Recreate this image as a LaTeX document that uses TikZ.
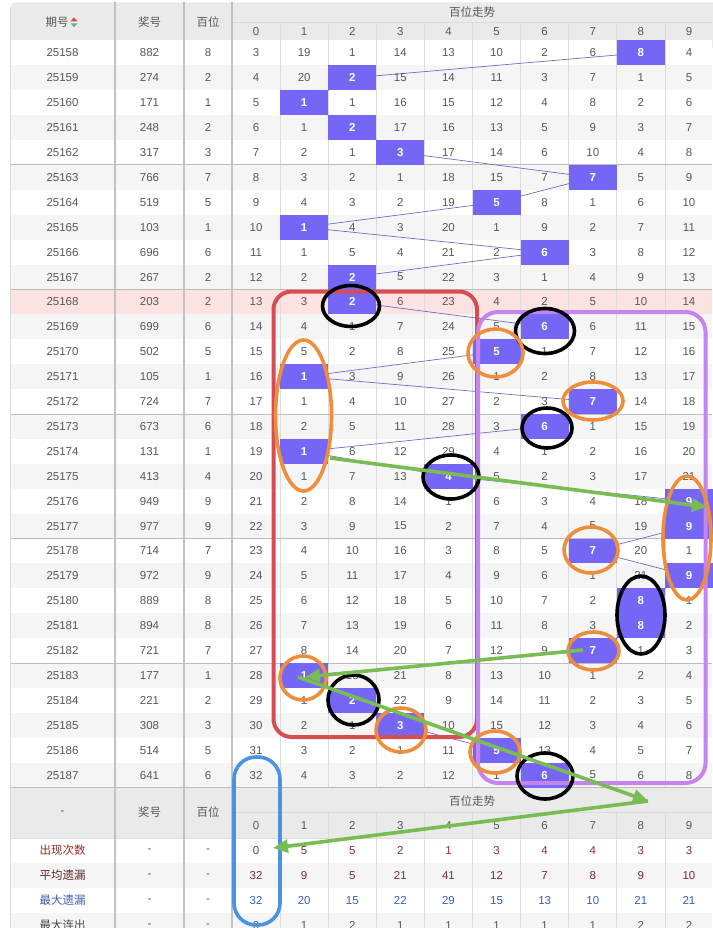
\documentclass[tikz,border=0pt]{standalone}
\usepackage{fontspec}
\setmainfont{Liberation Sans}
\newfontfamily\cjk{Noto Sans CJK SC}
\usetikzlibrary{arrows.meta}
\definecolor{txt}{HTML}{585858}
\definecolor{hdr}{HTML}{EAEAEA}
\definecolor{alt}{HTML}{F5F5F5}
\definecolor{pinkrow}{HTML}{FDE2E2}
\definecolor{hit}{RGB}{118,102,246}
\definecolor{trendc}{RGB}{116,106,200}
\definecolor{septhick}{HTML}{C2C2C2}
\definecolor{septhin}{HTML}{DCDCDC}
\definecolor{grpc}{HTML}{BDBDBD}
\definecolor{redbox}{RGB}{214,78,84}
\definecolor{purplebox}{RGB}{198,132,240}
\definecolor{bluebox}{RGB}{76,146,226}
\definecolor{orangering}{RGB}{238,142,60}
\definecolor{greenarrow}{RGB}{122,188,84}
\definecolor{statred}{RGB}{150,45,40}
\definecolor{statbrown}{RGB}{115,52,42}
\definecolor{statblue}{RGB}{62,94,172}
\definecolor{iconred}{RGB}{226,80,74}
\definecolor{iconteal}{RGB}{90,180,160}
\begin{document}
\begin{tikzpicture}[x=1pt,y=-1pt,font=\fontsize{11.5}{13}\selectfont]
\tikzset{
  txtnode/.style={text=txt,inner sep=0pt},
  cjknode/.style={text=txt,inner sep=0pt,font=\cjk\fontsize{11.5}{13}\selectfont},
  hitnode/.style={fill=hit,minimum width=48.1pt,minimum height=24.9pt,inner sep=0pt,text=white,font=\fontsize{11.5}{13}\selectfont\bfseries},
  trendline/.style={draw=trendc,line width=0.7pt},
  thickvsep/.style={draw=septhick,line width=2pt},
  thinsep/.style={draw=septhin,line width=0.8pt},
  grpline/.style={draw=grpc,line width=1pt},
  blackring/.style={draw=black,line width=3.6pt},
  orangeringst/.style={draw=orangering,line width=3.6pt},
  garrow/.style={draw=greenarrow,line width=3.6pt,-{Triangle[length=15pt,width=13pt]}},
}
\useasboundingbox (0,0) rectangle (712,928);
\fill[white] (0,0) rectangle (712,928);

% header background
\fill[hdr,rounded corners=5pt] (10,48) -- (10,2.5) -- (722,2.5) -- (722,48) -- cycle;

% row backgrounds
\foreach \i in {0,...,29}{
  \pgfmathsetmacro\yt{40.5+24.9*\i}
  \ifodd\i \fill[alt] (10,\yt) rectangle (712,\yt+24.9); \else \fill[white] (10,\yt) rectangle (712,\yt+24.9); \fi
}
\fill[pinkrow] (10,289.5) rectangle (712,314.4);

% bottom header + stats backgrounds
\fill[hdr] (10,787.5) rectangle (712,838);
\fill[white] (10,838) rectangle (712,863);
\fill[alt] (10,863) rectangle (712,888);
\fill[white] (10,888) rectangle (712,913);
\fill[alt] (10,913) rectangle (712,938);

% separators
\draw[thinsep] (232,22.5) -- (712,22.5);
\draw[thinsep] (232,812.5) -- (712,812.5);
\foreach \k in {1,...,9}{
  \draw[thinsep] ({232+48.1*\k},22.5) -- ({232+48.1*\k},787.5);
  \draw[thinsep] ({232+48.1*\k},812.5) -- ({232+48.1*\k},928);
}
\foreach \k in {1,...,5} \draw[grpline] (10,{40.5+124.5*\k}) -- (712,{40.5+124.5*\k});
\draw[grpline] (10,787.5) -- (712,787.5);
\draw[thinsep] (10,838) -- (712,838);
\draw[thinsep] (10,8) -- (10,928);
\foreach \x in {115,184,232} \draw[thickvsep] (\x,2.5) -- (\x,928);

% header texts
\node[cjknode] (hqh) at (57,22) {期号};
\fill[iconred] (70.5,21.3) -- (77.5,21.3) -- (74,17.3) -- cycle;
\fill[iconteal] (70.5,23.3) -- (77.5,23.3) -- (74,27.3) -- cycle;
\node[cjknode] (hjh) at (149.5,22) {奖号};
\node[cjknode] (hbw) at (208,22) {百位};
\node[cjknode] (hzs) at (472,12) {百位走势};
\foreach \d in {0,...,9} \node[txtnode] (hd-\d) at ({256.05+48.1*\d},31.5) {\d};

% trend line coordinates
\def\hitlist{8,2,1,2,3,7,5,1,6,2,2,6,5,1,7,6,1,4,9,9,7,9,8,8,7,1,2,3,5,6}
\foreach \h [count=\i from 0] in \hitlist {
  \coordinate (t-\i) at ({256.05+48.1*\h},{52.95+24.9*\i});
}
\foreach \i [evaluate=\i as \j using {int(\i+1)}] in {0,...,28}{
  \draw[trendline] (t-\i) -- (t-\j);
}

% initial omissions
\foreach \d/\v in {0/2,1/18,2/0,3/13,4/12,5/9,6/1,7/5,8/0,9/3}{
  \expandafter\xdef\csname om\d\endcsname{\v}
}

% data rows
\foreach \p/\h [count=\i from 0] in {882/8,274/2,171/1,248/2,317/3,766/7,519/5,103/1,696/6,267/2,203/2,699/6,502/5,105/1,724/7,673/6,131/1,413/4,949/9,977/9,714/7,972/9,889/8,894/8,721/7,177/1,221/2,308/3,514/5,641/6}{
  \pgfmathsetmacro\yc{52.95+24.9*\i}
  \node[txtnode] (iss-\i) at (62.5,\yc) {\the\numexpr25158+\i\relax};
  \node[txtnode] (prz-\i) at (149.5,\yc) {\p};
  \node[txtnode] (hun-\i) at (208,\yc) {\h};
  \foreach \d in {0,...,9}{
    \pgfmathsetmacro\xc{256.05+48.1*\d}
    \ifnum\d=\h\relax
      \expandafter\xdef\csname om\d\endcsname{0}
      \node[hitnode] (n-\i-\d) at (\xc,\yc) {\d};
    \else
      \expandafter\xdef\csname om\d\endcsname{\the\numexpr\csname om\d\endcsname+1\relax}
      \node[txtnode] (n-\i-\d) at (\xc,\yc) {\csname om\d\endcsname};
    \fi
  }
}

% bottom header
\node[txtnode] (bdash) at (62.5,813) {-};
\node[cjknode] (bjh) at (149.5,812) {奖号};
\node[cjknode] (bbw) at (208,812) {百位};
\node[cjknode] (bzs) at (472,801) {百位走势};
\foreach \d in {0,...,9} \node[txtnode] (bd-\d) at ({256.05+48.1*\d},825.5) {\d};

% stats rows
\node[cjknode,text=statred] (s1) at (62.5,850.5) {出现次数};
\node[cjknode,text=statbrown!80!black] (s2) at (62.5,875.5) {平均遗漏};
\node[cjknode,text=statblue] (s3) at (62.5,900.5) {最大遗漏};
\node[cjknode,text=txt!80!black] (s4) at (62.5,925.5) {最大连出};
\foreach \r/\yy in {1/850.5,2/875.5,3/900.5,4/925.5}{
  \node[txtnode] (sa-\r) at (149.5,\yy) {-};
  \node[txtnode] (sb-\r) at (208,\yy) {-};
}
\foreach \v [count=\d from 0] in {0,5,5,2,1,3,4,4,3,3}
  \node[txtnode,text=statred] (v1-\d) at ({256.05+48.1*\d},850.5) {\v};
\foreach \v [count=\d from 0] in {32,9,5,21,41,12,7,8,9,10}
  \node[txtnode,text=statbrown] (v2-\d) at ({256.05+48.1*\d},875.5) {\v};
\foreach \v [count=\d from 0] in {32,20,15,22,29,15,13,10,21,21}
  \node[txtnode,text=statblue] (v3-\d) at ({256.05+48.1*\d},900.5) {\v};
\foreach \v [count=\d from 0] in {0,1,2,1,1,1,1,1,2,2}
  \node[txtnode] (v4-\d) at ({256.05+48.1*\d},925.5) {\v};

% annotation boxes
\draw[draw=redbox,line width=4pt,rounded corners=18pt] (273.5,291.5) rectangle (477,737);
\draw[draw=purplebox,line width=4pt,rounded corners=20pt] (478,312) rectangle (705.5,783);
\draw[draw=bluebox,line width=3.6pt,rounded corners=22pt] (234,757) rectangle (280,925);

% black rings
\draw[blackring] (351,306) ellipse [x radius=28.5, y radius=20.5];
\draw[blackring] (545,331) ellipse [x radius=29.5, y radius=22.5];
\draw[blackring] (547,428) ellipse [x radius=25, y radius=20];
\draw[blackring] (451,477) ellipse [x radius=28, y radius=22];
\draw[blackring] (641,615) ellipse [x radius=24, y radius=39];
\draw[blackring] (353.5,700) ellipse [x radius=25.5, y radius=25];
\draw[blackring] (545,776) ellipse [x radius=28, y radius=23];

% orange rings
\draw[orangeringst] (303.5,415.5) ellipse [x radius=28, y radius=75.5];
\draw[orangeringst] (495.5,353) ellipse [x radius=27.5, y radius=24];
\draw[orangeringst] (593,401) ellipse [x radius=30, y radius=19];
\draw[orangeringst] (591,550) ellipse [x radius=27, y radius=23];
\draw[orangeringst] (687,538) ellipse [x radius=24, y radius=62];
\draw[orangeringst] (593.5,651) ellipse [x radius=25.5, y radius=19];
\draw[orangeringst] (303,678) ellipse [x radius=23, y radius=22];
\draw[orangeringst] (401,730) ellipse [x radius=25, y radius=22];
\draw[orangeringst] (495,752) ellipse [x radius=25, y radius=21];

% green arrows
\coordinate (g1s) at (330,458);
\coordinate (g1e) at (707,507);
\coordinate (g2s) at (583,650);
\coordinate (g2e) at (305,677);
\coordinate (g3s) at (298,677);
\coordinate (g3e) at (648,801);
\coordinate (g4e) at (273,848);
\draw[garrow] (g1s) -- (g1e);
\draw[garrow] (g2s) -- (g2e);
\draw[garrow] (g3s) -- (g3e);
\draw[garrow] (g3e) -- (g4e);
\end{tikzpicture}
\end{document}
